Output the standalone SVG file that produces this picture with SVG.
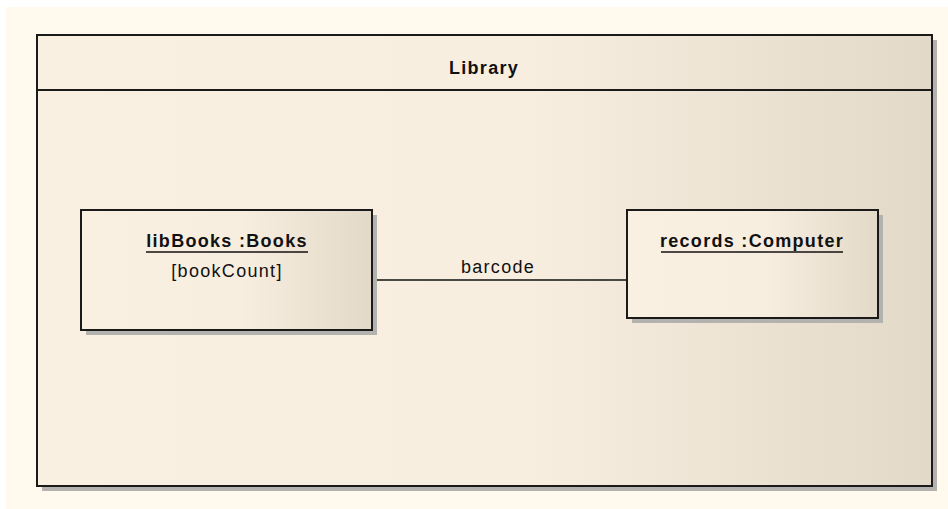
<svg xmlns="http://www.w3.org/2000/svg" width="948" height="509" viewBox="0 0 948 509">
<defs>
<linearGradient id="g" x1="0" y1="0" x2="1" y2="0">
<stop offset="0" stop-color="#FAF0E1"/>
<stop offset="0.55" stop-color="#F8EEE0"/>
<stop offset="1" stop-color="#E3D9C8"/>
</linearGradient>
<style>
.frame{fill:url(#g);stroke:#1a1a1a;stroke-width:2}
.shadow{fill:#B4B2AE}
.t{font-family:"Liberation Sans",Arial,sans-serif;font-size:18px;letter-spacing:1.3px;fill:#111;text-anchor:middle}
.b{font-weight:bold}
.ul{stroke:#111;stroke-width:1.5}
.conn{stroke:#111;stroke-width:1.5;fill:none}
</style>
</defs>
<rect x="0" y="0" width="948" height="509" fill="#ffffff"/>
<rect x="6" y="7" width="942" height="502" fill="#FFF9EE"/>
<g id="library">
<rect class="shadow" x="42" y="40" width="895" height="451"/>
<rect class="frame" x="37" y="35" width="895" height="451"/>
<line x1="37" y1="90" x2="932" y2="90" stroke="#1a1a1a" stroke-width="2"/>
<text class="t b" x="484" y="74">Library</text>
</g>
<g id="connectors">
<line class="conn" x1="372" y1="280" x2="627" y2="280"/>
<text class="t" x="498" y="273">barcode</text>
</g>
<g id="libBooks">
<rect class="shadow" x="86" y="215" width="291" height="120"/>
<rect class="frame" x="81" y="210" width="291" height="120"/>
<text class="t b" x="227" y="247">libBooks :Books</text>
<line class="ul" x1="146" y1="252" x2="308" y2="252"/>
<text class="t" x="227" y="277">[bookCount]</text>
</g>
<g id="records">
<rect class="shadow" x="632" y="215" width="251" height="108"/>
<rect class="frame" x="627" y="210" width="251" height="108"/>
<text class="t b" x="752" y="247">records :Computer</text>
<line class="ul" x1="661" y1="252" x2="843" y2="252"/>
</g>
</svg>
